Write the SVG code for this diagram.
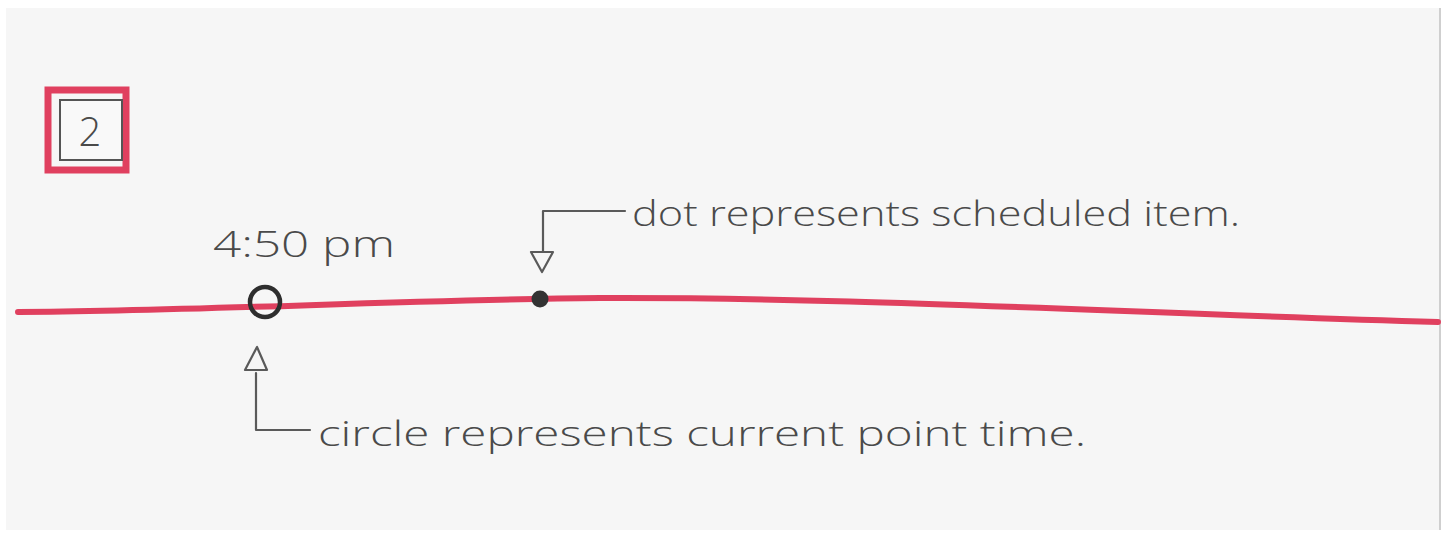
<svg xmlns="http://www.w3.org/2000/svg" width="1452" height="534" viewBox="0 0 1452 534">
<style>
.ink{fill:none;stroke:#5a5a5a;stroke-width:2.2;stroke-linecap:round;stroke-linejoin:round}
.txt{font-family:"Open Sans","DejaVu Sans",sans-serif;font-weight:300;fill:#4a4a4a}
</style>
<rect width="1452" height="534" fill="#ffffff"/>
<rect x="6" y="8" width="1434" height="522" fill="#f6f6f6"/>
<line x1="1440" y1="8" x2="1440" y2="530" stroke="#cfcfcf" stroke-width="2"/>
<g id="badge">
<rect x="48" y="90" width="78" height="80" fill="none" stroke="#e0405f" stroke-width="7"/>
<rect x="60" y="100" width="62" height="60" fill="#f9f9f9" stroke="#555" stroke-width="2"/>
<text x="90" y="146" class="txt" font-size="40" text-anchor="middle" fill="#333">2</text>
</g>
<g id="timeline">
<path d="M18 312 C200 311 400 300 600 298 C850 297 1100 312 1438 322" fill="none" stroke="#e0405f" stroke-width="6" stroke-linecap="round"/>
</g>
<g id="current-time">
<circle cx="265" cy="302" r="15" fill="none" stroke="#2e2e2e" stroke-width="4.5"/>
<text x="213" y="257" class="txt" font-size="36" textLength="182" lengthAdjust="spacingAndGlyphs">4:50 pm</text>
</g>
<g id="scheduled-item">
<circle cx="540" cy="299" r="8.5" fill="#333"/>
</g>
<g id="connectors">
<path class="ink" d="M625 211 H543 V252"/>
<path class="ink" d="M531 252 L553 252 L542 272 Z"/>
<path class="ink" d="M256 373 V430 H310"/>
<path class="ink" d="M245 370 L267 370 L257 347 Z"/>
</g>
<g id="labels">
<text x="632" y="226" class="txt" font-size="34" textLength="608" lengthAdjust="spacingAndGlyphs">dot represents scheduled item.</text>
<text x="318" y="446" class="txt" font-size="34" textLength="768" lengthAdjust="spacingAndGlyphs">circle represents current point time.</text>
</g>
</svg>
